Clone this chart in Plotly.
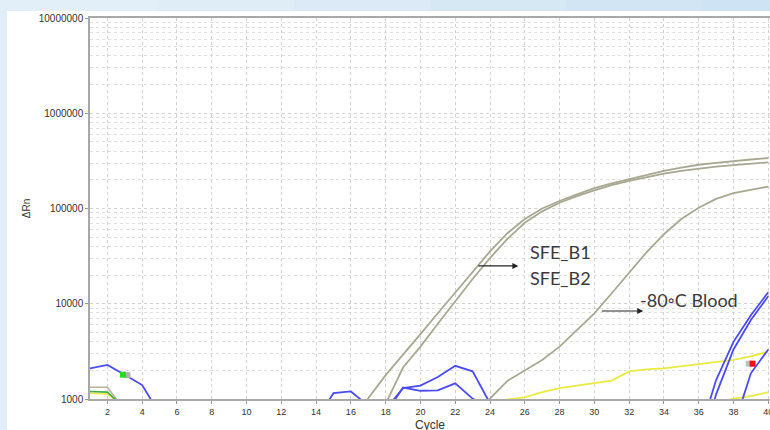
import plotly.graph_objects as go

# ---------------- data ----------------
x_ticks = list(range(2, 41, 2))
x_tick_labels = [str(v) for v in x_ticks]
y_ticks = [1000, 10000, 100000, 1000000, 10000000]
y_tick_labels = ["1000", "10000", "100000", "1000000", "10000000"]

sfe_b1_cycles = list(range(16, 41))
sfe_b1 = [400, 1020, 1780, 2880, 4790, 7940, 13200, 21900, 35500, 55000, 77600,
          100000, 120000, 141000, 164000, 184000, 204000, 224000, 248000, 269000,
          288000, 302000, 316000, 327000, 339000]

sfe_b2_cycles = list(range(17, 41))
sfe_b2 = [320, 890, 2140, 3550, 6170, 10700, 18200, 30200, 47900, 70800, 93300,
          115000, 135000, 155000, 176000, 195000, 214000, 232000, 248000, 263000,
          275000, 285000, 295000, 305000]

blood_cycles = list(range(23, 41))
blood = [320, 1010, 1550, 2000, 2570, 3550, 5250, 7940, 12900, 21400, 34700,
         53700, 77600, 102000, 126000, 145000, 158000, 170000]

blue_early_cycles = [1, 2, 3, 4, 5]
blue_early = [2100, 2280, 1800, 1400, 700]
blue_bump_cycles = [14, 15, 16, 17]
blue_bump = [600, 1150, 1200, 850]
blue_mid1_cycles = [18, 19, 20, 21, 22, 23, 24]
blue_mid1 = [780, 1300, 1380, 1700, 2230, 1950, 900]
blue_mid2_cycles = [18, 19, 20, 21, 22, 23, 24]
blue_mid2 = [700, 1320, 1220, 1230, 1460, 1010, 800]
blue_late1_cycles = [36, 37, 38, 39, 40]
blue_late1 = [400, 1580, 3980, 7590, 13200]
blue_late2_cycles = [36, 37, 38, 39, 40]
blue_late2 = [250, 1120, 3310, 6760, 12000]
blue_late3_cycles = [38, 39, 40]
blue_late3 = [500, 1860, 3310]

yellow_a_cycles = list(range(24, 41))
yellow_a = [600, 990, 1040, 1180, 1300, 1380, 1470, 1560, 1950, 2050, 2100, 2200,
            2300, 2450, 2570, 2800, 3150]
yellow_b_cycles = [36, 37, 38, 39, 40]
yellow_b = [700, 900, 1010, 1070, 1180]

early_cycles = [1, 2, 3]
tan_early = [1330, 1330, 760]
green_early = [1200, 1180, 800]
yellow_early = [1150, 1130, 820]

green_mark_x, green_mark_y = [2.9], [1800]
green_shadow_x, green_shadow_y = [3.15], [1780]
red_mark_x, red_mark_y = [39.1], [2350]
red_shadow_x, red_shadow_y = [38.88], [2350]

# ---------------- styles ----------------
GRAY = "#a8a892"
BLUE = "#4b4bf2"
YELLOW = "#eaea40"
GREEN = "#3fae46"
TAN = "#b8b39c"

fig = go.Figure()


def add_line(x, y, color, width):
    fig.add_trace(go.Scatter(x=x, y=y, mode="lines",
                             line=dict(color=color, width=width),
                             showlegend=False, hoverinfo="skip"))


add_line(early_cycles, tan_early, TAN, 1.6)
add_line(early_cycles, yellow_early, YELLOW, 1.6)
add_line(early_cycles, green_early, GREEN, 1.6)
add_line(yellow_a_cycles, yellow_a, YELLOW, 1.8)
add_line(yellow_b_cycles, yellow_b, YELLOW, 1.8)
for cx, cy in [(blue_early_cycles, blue_early), (blue_bump_cycles, blue_bump),
               (blue_mid1_cycles, blue_mid1), (blue_mid2_cycles, blue_mid2),
               (blue_late1_cycles, blue_late1), (blue_late2_cycles, blue_late2),
               (blue_late3_cycles, blue_late3)]:
    add_line(cx, cy, BLUE, 1.8)
add_line(blood_cycles, blood, GRAY, 1.8)
add_line(sfe_b1_cycles, sfe_b1, GRAY, 1.8)
add_line(sfe_b2_cycles, sfe_b2, GRAY, 1.8)

for mx, my, col in [(green_shadow_x, green_shadow_y, "#b0b0b0"),
                    (green_mark_x, green_mark_y, "#22dd22"),
                    (red_shadow_x, red_shadow_y, "#c0c0c0"),
                    (red_mark_x, red_mark_y, "#ee1111")]:
    fig.add_trace(go.Scatter(x=mx, y=my, mode="markers",
                             marker=dict(symbol="square", size=6, color=col),
                             showlegend=False, hoverinfo="skip"))

label_font = dict(family="Lato, Noto Sans, sans-serif", size=18, color="#3a3a3a")
fig.add_annotation(x=26.19, y=4.545, xref="x", yref="y", text="SFE_B1",
                   showarrow=False, xanchor="left", yanchor="middle", font=label_font)
fig.add_annotation(x=26.19, y=4.271, xref="x", yref="y", text="SFE_B2",
                   showarrow=False, xanchor="left", yanchor="middle", font=label_font)
fig.add_annotation(x=32.53, y=4.04, xref="x", yref="y", text="-80\u25e6C Blood",
                   showarrow=False, xanchor="left", yanchor="middle", font=label_font)
fig.add_annotation(x=25.63, y=4.397, ax=23.24, ay=4.397, xref="x", yref="y",
                   axref="x", ayref="y", text="", showarrow=True, arrowhead=2,
                   arrowsize=1, arrowwidth=1.2, arrowcolor="#222222")
fig.add_annotation(x=32.81, y=3.924, ax=30.34, ay=3.924, xref="x", yref="y",
                   axref="x", ayref="y", text="", showarrow=True, arrowhead=2,
                   arrowsize=1, arrowwidth=1.2, arrowcolor="#222222")
# x-axis title, sitting low as in the reference (partly cut by the bottom edge)
fig.add_annotation(x=0.5, y=-0.068, xref="paper", yref="paper", text="Cycle",
                   showarrow=False, xanchor="center", yanchor="middle",
                   font=dict(family="Liberation Sans, Arial", size=12, color="#333333"))

# light-blue frame: white panel on top of a blue page, soft gradient on the top band
fig.add_shape(type="rect", xref="paper", yref="paper", x0=-0.1221, x1=1.2,
              y0=-0.2, y1=1.0184, fillcolor="white", line=dict(width=0), layer="below")
band_steps = [(-0.2, "#e3eff8"), (0.1, "#dfedf7"), (0.3, "#dbeaf6"), (0.5, "#d7e8f5"),
              (0.7, "#d2e5f4"), (0.9, "#cee3f3")]
for i, (bx0, bcol) in enumerate(band_steps):
    bx1 = band_steps[i + 1][0] if i + 1 < len(band_steps) else 1.2
    fig.add_shape(type="rect", xref="paper", yref="paper", x0=bx0, x1=bx1,
                  y0=1.0184, y1=1.2, fillcolor=bcol, line=dict(width=0), layer="below")

tick_font = dict(family="Liberation Sans, Arial, sans-serif", size=9, color="#333333")
fig.update_layout(
    width=770, height=430, autosize=False,
    margin=dict(l=90, r=0, t=18, b=31),
    paper_bgcolor="#e1eef8", plot_bgcolor="white",
    xaxis=dict(range=[1, 40.1], tickmode="array", tickvals=x_ticks,
               ticktext=x_tick_labels, showgrid=True, gridcolor="#d2d2d2",
               griddash="dot", gridwidth=1, zeroline=False, showline=True,
               linecolor="#a8a8a8", linewidth=1.5, mirror=True, ticks="outside",
               ticklen=3, tickcolor="#999999", tickfont=tick_font,
               ticklabeloverflow="allow", automargin=False),
    yaxis=dict(type="log", range=[3, 7], tickmode="array", tickvals=y_ticks,
               ticktext=y_tick_labels, showgrid=True, gridcolor="#d2d2d2",
               griddash="dot", gridwidth=1, zeroline=False, showline=True,
               linecolor="#a8a8a8", linewidth=1.5, ticks="outside", ticklen=3,
               tickcolor="#999999",
               tickfont=dict(family="Liberation Sans, Arial, sans-serif", size=10,
                             color="#333333"),
               minor=dict(dtick="D1", showgrid=True, gridcolor="#e0e0e0",
                          griddash="dot", ticks=""),
               title=dict(text="\u0394Rn", font=dict(family="Liberation Sans, Arial",
                                                      size=10, color="#333333"),
                          standoff=6),
               automargin=False),
)

fig.write_html("out.html", config={"displayModeBar": False},
               post_script="document.body.style.margin='0';"
                           "document.body.style.overflow='hidden';")
